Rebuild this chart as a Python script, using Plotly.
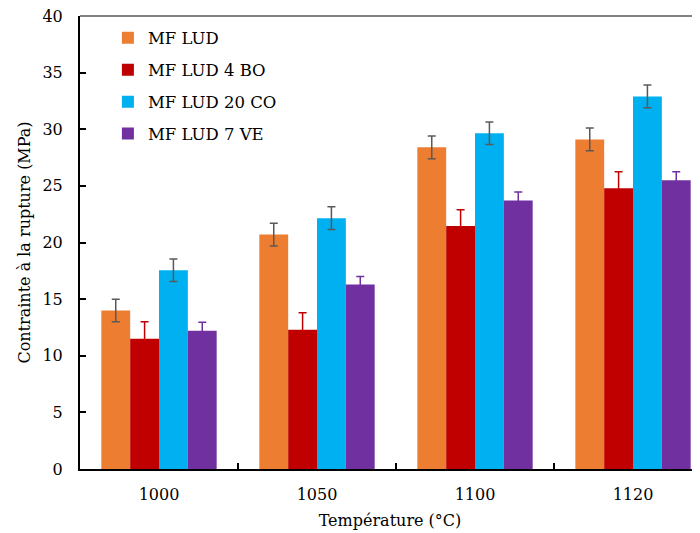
import plotly.graph_objects as go

temperatures = ["1000", "1050", "1100", "1120"]
series_names = ["MF LUD", "MF LUD 4 BO", "MF LUD 20 CO", "MF LUD 7 VE"]
mf_lud = [14.0, 20.7, 28.4, 29.1]
mf_lud_4bo = [11.5, 12.3, 21.45, 24.8]
mf_lud_20co = [17.55, 22.15, 29.65, 32.9]
mf_lud_7ve = [12.2, 16.3, 23.7, 25.5]
err_lud = [1.0, 1.0, 1.0, 1.0]
err_4bo = [1.5, 1.5, 1.45, 1.45]
err_20co = [1.0, 1.0, 1.0, 1.0]
err_7ve = [0.75, 0.7, 0.75, 0.75]
y_ticks = [0, 5, 10, 15, 20, 25, 30, 35, 40]

colors = ["#ED7D31", "#C00000", "#00B0F0", "#7030A0"]
err_colors = ["#595959", "#C00000", "#595959", "#7030A0"]
values = [mf_lud, mf_lud_4bo, mf_lud_20co, mf_lud_7ve]
errors = [err_lud, err_4bo, err_20co, err_7ve]

FONT = "DejaVu Serif"

fig = go.Figure()
for name, vals, errs, c, ec in zip(series_names, values, errors, colors, err_colors):
    fig.add_trace(go.Bar(
        x=temperatures, y=vals, name=name, legendgroup=name,
        marker=dict(color=c, line=dict(width=0)),
        error_y=dict(type="data", array=errs, visible=True, color=ec,
                     thickness=1.5, width=4),
    ))

fig.update_layout(
    width=700, height=533,
    margin=dict(l=72, r=8, t=8, b=72, autoexpand=False),
    plot_bgcolor="white", paper_bgcolor="white",
    barmode="group", bargap=0.27, bargroupgap=0,
    font=dict(family=FONT, size=16, color="black"),
    legend=dict(x=0.045, y=0.99, xanchor="left", yanchor="top",
                bgcolor="rgba(0,0,0,0)", font=dict(family=FONT, size=16.5, color="black"),
                tracegroupgap=7.5, itemclick=False),
    showlegend=True,
)
fig.update_xaxes(
    type="category", range=[-0.5, 3.424], automargin=False,
    showline=True, linecolor="black", linewidth=2,
    ticks="inside", ticklen=6, tickwidth=2, tickcolor="black",
    tickson="boundaries", showgrid=False, zeroline=False,
    ticklabelstandoff=10,
    tickfont=dict(family=FONT, size=16, color="black"),
    title=dict(text="Température (°C)", font=dict(family=FONT, size=16, color="black"), standoff=12),
)
fig.update_yaxes(
    range=[0, 40], tickvals=y_ticks, automargin=False,
    showline=True, linecolor="black", linewidth=2,
    ticks="inside", ticklen=6, tickwidth=2, tickcolor="black",
    showgrid=False, zeroline=False, ticklabelstandoff=12,
    ticklabeloverflow="allow",
    tickfont=dict(family=FONT, size=16, color="black"),
    title=dict(text="Contrainte à la rupture (MPa)", font=dict(family=FONT, size=16, color="black"), standoff=8),
)
fig.add_shape(type="line", xref="paper", yref="paper", x0=0, x1=1, y0=1, y1=1,
              line=dict(color="#595959", width=1.5), layer="above")

fig.write_html("out.html")
